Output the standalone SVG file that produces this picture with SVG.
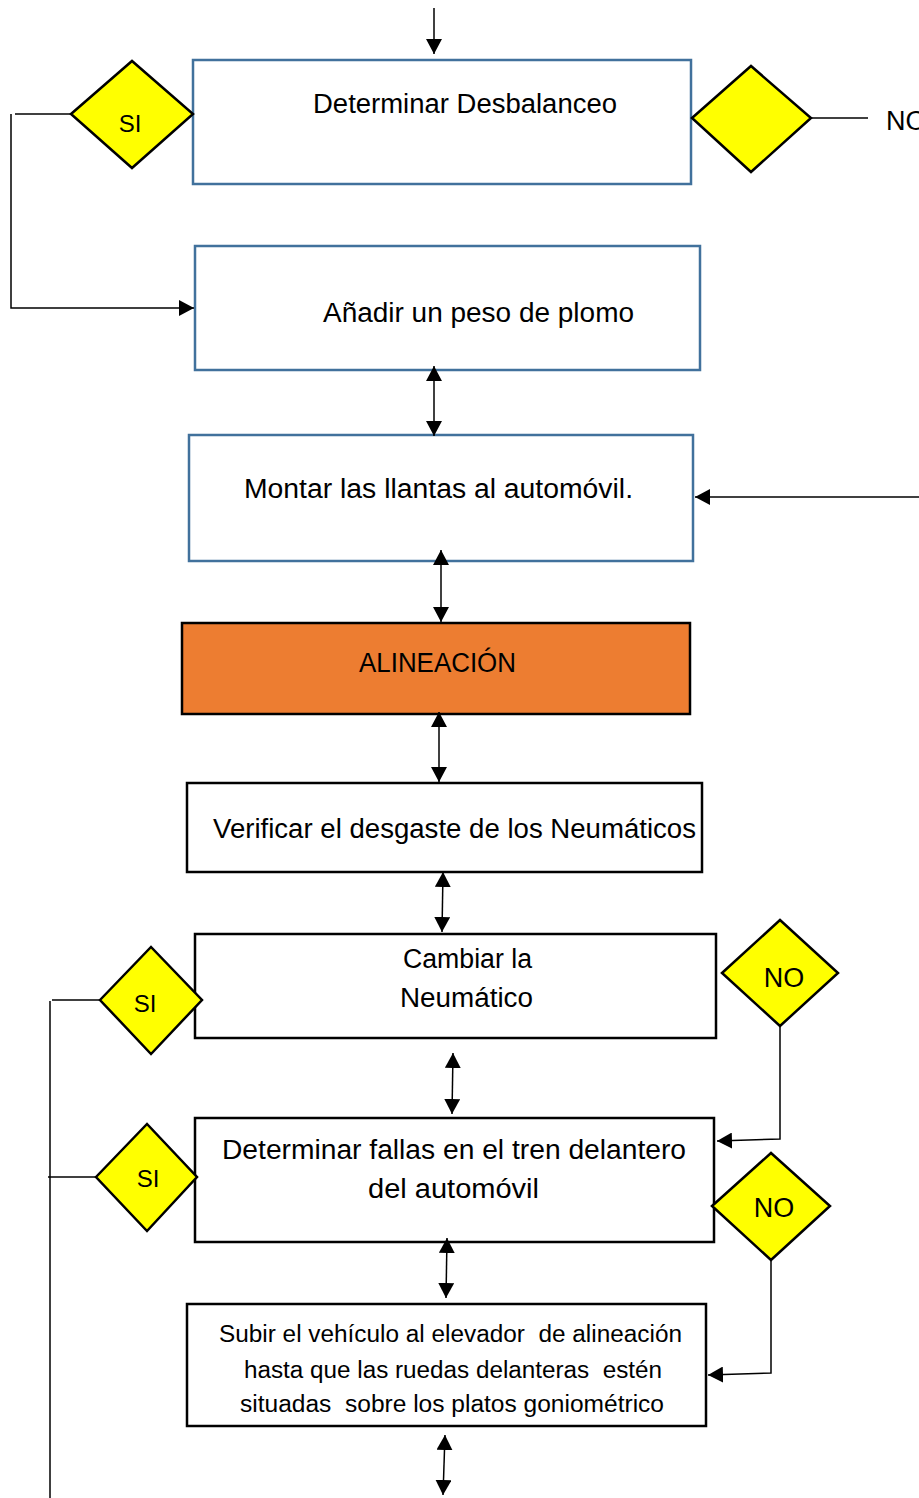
<svg xmlns="http://www.w3.org/2000/svg" width="919" height="1498" viewBox="0 0 919 1498">
  <style>
    text { font-family: "Liberation Sans", Arial, sans-serif; fill: #000; white-space: pre; }
    .lbl { font-size: 27px; }
    .sm { font-size: 23px; }
    .dec { font-size: 24px; }
    .boxb { fill: #fff; stroke: #41719C; stroke-width: 2.5; }
    .boxk { fill: #fff; stroke: #000; stroke-width: 2.5; }
    .boxo { fill: #ED7D31; stroke: #000; stroke-width: 2.5; }
    .dia { fill: #FFFF00; stroke: #000; stroke-width: 2.5; stroke-linejoin: miter; }
    .ln { fill: none; stroke: #000; stroke-width: 1.5; }
    .ar { fill: none; stroke: #000; stroke-width: 1.5; marker-end: url(#ah); }
    .dbl { fill: none; stroke: #000; stroke-width: 1.5; marker-start: url(#ah); marker-end: url(#ah); }
  </style>
  <defs>
    <marker id="ah" viewBox="0 0 15 16" markerUnits="userSpaceOnUse" markerWidth="15" markerHeight="16" refX="15" refY="8" orient="auto-start-reverse">
      <path d="M0,0 L15,8 L0,16 z" fill="#000"/>
    </marker>
  </defs>

  <rect width="919" height="1498" fill="#fff"/>

  <g id="n-desbalanceo">
    <rect class="boxb" x="193" y="60" width="498" height="124"/>
    <text class="lbl" x="313" y="113" textLength="304" lengthAdjust="spacingAndGlyphs">Determinar Desbalanceo</text>
  </g>

  <g id="d-si-1">
    <polygon class="dia" points="71,114 132,61 193,114 132,168"/>
    <text class="dec" x="130" y="132" text-anchor="middle">SI</text>
  </g>

  <g id="d-no-1">
    <polygon class="dia" points="692,118 751,66 811,118 751,172"/>
    <text class="lbl" x="886" y="130">NO</text>
  </g>

  <g id="n-plomo">
    <rect class="boxb" x="195" y="246" width="505" height="124"/>
    <text class="lbl" x="323" y="322" textLength="311" lengthAdjust="spacingAndGlyphs">Añadir un peso de plomo</text>
  </g>

  <g id="n-montar">
    <rect class="boxb" x="189" y="435" width="504" height="126"/>
    <text class="lbl" x="244" y="498" textLength="389" lengthAdjust="spacingAndGlyphs">Montar las llantas al automóvil.</text>
  </g>

  <g id="n-alineacion">
    <rect class="boxo" x="182" y="623" width="508" height="91"/>
    <text class="lbl" x="359" y="672" textLength="157" lengthAdjust="spacingAndGlyphs">ALINEACIÓN</text>
  </g>

  <g id="n-verificar">
    <rect class="boxk" x="187" y="783" width="515" height="89"/>
    <text class="lbl" x="213" y="838" textLength="483" lengthAdjust="spacingAndGlyphs">Verificar el desgaste de los Neumáticos</text>
  </g>

  <g id="n-cambiar">
    <rect class="boxk" x="195" y="934" width="521" height="104"/>
    <text class="lbl" x="403" y="968" textLength="129" lengthAdjust="spacingAndGlyphs">Cambiar la</text>
    <text class="lbl" x="400" y="1007" textLength="133" lengthAdjust="spacingAndGlyphs">Neumático</text>
  </g>

  <g id="d-si-2">
    <polygon class="dia" points="100,1000 151,947 202,1000 151,1054"/>
    <text class="dec" x="145" y="1012" text-anchor="middle">SI</text>
  </g>

  <g id="d-no-2">
    <polygon class="dia" points="722,973 780,920 838,973 780,1026"/>
    <text class="lbl" x="784" y="987" text-anchor="middle">NO</text>
  </g>

  <g id="n-fallas">
    <rect class="boxk" x="195" y="1118" width="519" height="124"/>
    <text class="lbl" x="222" y="1159" textLength="464" lengthAdjust="spacingAndGlyphs">Determinar fallas en el tren delantero</text>
    <text class="lbl" x="368" y="1198" textLength="171" lengthAdjust="spacingAndGlyphs">del automóvil</text>
  </g>

  <g id="d-si-3">
    <polygon class="dia" points="96,1177 147,1124 197,1177 147,1231"/>
    <text class="dec" x="148" y="1187" text-anchor="middle">SI</text>
  </g>

  <g id="d-no-3">
    <polygon class="dia" points="712,1206 771,1153 830,1206 771,1260"/>
    <text class="lbl" x="774" y="1217" text-anchor="middle">NO</text>
  </g>

  <g id="n-subir">
    <rect class="boxk" x="187" y="1304" width="519" height="122"/>
    <text class="sm" x="219" y="1342" textLength="463" lengthAdjust="spacingAndGlyphs">Subir el vehículo al elevador  de alineación</text>
    <text class="sm" x="244" y="1378" textLength="418" lengthAdjust="spacingAndGlyphs">hasta que las ruedas delanteras  estén</text>
    <text class="sm" x="240" y="1412" textLength="424" lengthAdjust="spacingAndGlyphs">situadas  sobre los platos goniométrico</text>
  </g>

  <!-- connectors, drawn last so arrowheads sit over box edges -->
  <g id="connectors">
    <line class="ar" x1="434" y1="8" x2="434" y2="54"/>
    <polyline class="ln" points="15,114 71,114"/>
    <polyline class="ar" points="11,114 11,308 194,308"/>
    <line class="ln" x1="811" y1="118" x2="868" y2="118"/>
    <line class="dbl" x1="434" y1="366" x2="434" y2="436"/>
    <line class="ar" x1="919" y1="497" x2="695" y2="497"/>
    <line class="dbl" x1="441" y1="550" x2="441" y2="622"/>
    <line class="dbl" x1="439" y1="712" x2="439" y2="782"/>
    <line class="dbl" x1="443" y1="872" x2="442" y2="932"/>
    <line class="dbl" x1="453" y1="1053" x2="452" y2="1114"/>
    <line class="dbl" x1="447" y1="1238" x2="446" y2="1298"/>
    <line class="dbl" x1="445" y1="1435" x2="443" y2="1495"/>
    <line class="ln" x1="52" y1="1000" x2="100" y2="1000"/>
    <line class="ln" x1="48" y1="1177" x2="96" y2="1177"/>
    <line class="ln" x1="50" y1="1001" x2="50" y2="1498"/>
    <polyline class="ar" points="780,1026 780,1139 717,1141"/>
    <polyline class="ar" points="771,1260 771,1373 708,1375"/>
  </g>
</svg>
